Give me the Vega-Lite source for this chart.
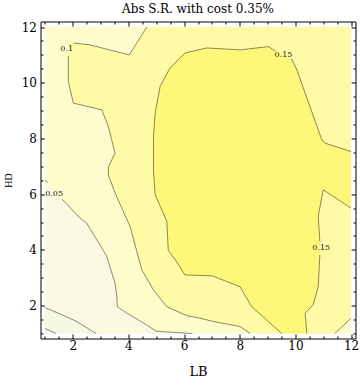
{
  "$schema": "https://vega.github.io/schema/vega-lite/v6.json",
  "autosize": {"type": "none"},
  "padding": {"left": 40.5, "top": 21.5, "right": 4, "bottom": 41.5},
  "width": 315,
  "height": 317,
  "title": {"text": "Abs S.R. with cost 0.35%", "font": "DejaVu Serif", "fontSize": 12, "fontWeight": "normal", "color": "#000", "anchor": "middle", "frame": "group", "baseline": "alphabetic", "offset": -4},
  "config": {
    "view": {"stroke": "#000", "strokeWidth": 1},
    "font": "DejaVu Serif",
    "axis": {"zindex": 1, "grid": false, "domain": false, "labelFlush": false, "labelColor": "#000", "titleColor": "#000", "titleFontWeight": "normal", "labelFont": "DejaVu Serif", "titleFont": "DejaVu Serif", "tickColor": "#000", "tickWidth": 1}
  },
  "datasets": {
    "bg": [{"x0": 1, "x1": 12, "y0": 1, "y1": 12}],
    "fills": [
      {"lvl": 1, "i": 0, "LB": 1, "HD": 1.18}, {"lvl": 1, "i": 1, "LB": 1.4, "HD": 1}, {"lvl": 1, "i": 2, "LB": 12, "HD": 1}, {"lvl": 1, "i": 3, "LB": 12, "HD": 12}, {"lvl": 1, "i": 4, "LB": 1, "HD": 12},
      {"lvl": 2, "i": 0, "LB": 1, "HD": 1.93}, {"lvl": 2, "i": 1, "LB": 1.6, "HD": 1.68}, {"lvl": 2, "i": 2, "LB": 2.12, "HD": 1.44}, {"lvl": 2, "i": 3, "LB": 2.84, "HD": 1}, {"lvl": 2, "i": 4, "LB": 12, "HD": 1}, {"lvl": 2, "i": 5, "LB": 12, "HD": 12}, {"lvl": 2, "i": 6, "LB": 1, "HD": 12},
      {"lvl": 3, "i": 0, "LB": 1, "HD": 6.52}, {"lvl": 3, "i": 1, "LB": 1.35, "HD": 6.12}, {"lvl": 3, "i": 2, "LB": 1.62, "HD": 5.82}, {"lvl": 3, "i": 3, "LB": 2.26, "HD": 5.14}, {"lvl": 3, "i": 4, "LB": 2.5, "HD": 4.96}, {"lvl": 3, "i": 5, "LB": 3.16, "HD": 3.88}, {"lvl": 3, "i": 6, "LB": 3.22, "HD": 3.76}, {"lvl": 3, "i": 7, "LB": 3.52, "HD": 2.8}, {"lvl": 3, "i": 8, "LB": 3.58, "HD": 2.38}, {"lvl": 3, "i": 9, "LB": 3.6, "HD": 1.96}, {"lvl": 3, "i": 10, "LB": 3.94, "HD": 1.73}, {"lvl": 3, "i": 11, "LB": 4.36, "HD": 1.49}, {"lvl": 3, "i": 12, "LB": 5.0, "HD": 1.08}, {"lvl": 3, "i": 13, "LB": 5.8, "HD": 1.03}, {"lvl": 3, "i": 14, "LB": 6.3, "HD": 1}, {"lvl": 3, "i": 15, "LB": 12, "HD": 1}, {"lvl": 3, "i": 16, "LB": 12, "HD": 12}, {"lvl": 3, "i": 17, "LB": 1, "HD": 12},
      {"lvl": 4, "i": 0, "LB": 4.66, "HD": 12}, {"lvl": 4, "i": 1, "LB": 4.03, "HD": 11.0}, {"lvl": 4, "i": 2, "LB": 2.62, "HD": 11.36}, {"lvl": 4, "i": 3, "LB": 2.02, "HD": 11.43}, {"lvl": 4, "i": 4, "LB": 1.84, "HD": 11.43}, {"lvl": 4, "i": 5, "LB": 1.84, "HD": 10.97}, {"lvl": 4, "i": 6, "LB": 1.84, "HD": 10.05}, {"lvl": 4, "i": 7, "LB": 2.02, "HD": 9.27}, {"lvl": 4, "i": 8, "LB": 3.04, "HD": 9.03}, {"lvl": 4, "i": 9, "LB": 3.28, "HD": 8.43}, {"lvl": 4, "i": 10, "LB": 3.52, "HD": 7.47}, {"lvl": 4, "i": 11, "LB": 3.28, "HD": 6.99}, {"lvl": 4, "i": 12, "LB": 3.28, "HD": 6.69}, {"lvl": 4, "i": 13, "LB": 3.52, "HD": 6.04}, {"lvl": 4, "i": 14, "LB": 4.06, "HD": 4.84}, {"lvl": 4, "i": 15, "LB": 4.48, "HD": 3.28}, {"lvl": 4, "i": 16, "LB": 4.9, "HD": 2.56}, {"lvl": 4, "i": 17, "LB": 5.38, "HD": 1.96}, {"lvl": 4, "i": 18, "LB": 6.1, "HD": 1.64}, {"lvl": 4, "i": 19, "LB": 6.57, "HD": 1.55}, {"lvl": 4, "i": 20, "LB": 7.05, "HD": 1.43}, {"lvl": 4, "i": 21, "LB": 8.01, "HD": 1.25}, {"lvl": 4, "i": 22, "LB": 8.37, "HD": 1}, {"lvl": 4, "i": 23, "LB": 11.42, "HD": 1}, {"lvl": 4, "i": 24, "LB": 12, "HD": 1.55}, {"lvl": 4, "i": 25, "LB": 12, "HD": 12},
      {"lvl": 5, "i": 0, "LB": 9.51, "HD": 1}, {"lvl": 5, "i": 1, "LB": 8.43, "HD": 1.96}, {"lvl": 5, "i": 2, "LB": 8.01, "HD": 2.68}, {"lvl": 5, "i": 3, "LB": 7.0, "HD": 3.07}, {"lvl": 5, "i": 4, "LB": 6.03, "HD": 3.1}, {"lvl": 5, "i": 5, "LB": 5.85, "HD": 3.4}, {"lvl": 5, "i": 6, "LB": 5.43, "HD": 4.0}, {"lvl": 5, "i": 7, "LB": 5.38, "HD": 5.02}, {"lvl": 5, "i": 8, "LB": 4.96, "HD": 5.98}, {"lvl": 5, "i": 9, "LB": 4.9, "HD": 6.87}, {"lvl": 5, "i": 10, "LB": 4.9, "HD": 8.07}, {"lvl": 5, "i": 11, "LB": 4.96, "HD": 8.91}, {"lvl": 5, "i": 12, "LB": 5.14, "HD": 9.87}, {"lvl": 5, "i": 13, "LB": 5.49, "HD": 10.53}, {"lvl": 5, "i": 14, "LB": 6.03, "HD": 11.07}, {"lvl": 5, "i": 15, "LB": 6.81, "HD": 11.25}, {"lvl": 5, "i": 16, "LB": 8.01, "HD": 11.18}, {"lvl": 5, "i": 17, "LB": 9.03, "HD": 11.3}, {"lvl": 5, "i": 18, "LB": 9.33, "HD": 11.12}, {"lvl": 5, "i": 19, "LB": 9.57, "HD": 11.0}, {"lvl": 5, "i": 20, "LB": 9.81, "HD": 10.89}, {"lvl": 5, "i": 21, "LB": 10.05, "HD": 10.47}, {"lvl": 5, "i": 22, "LB": 10.95, "HD": 7.95}, {"lvl": 5, "i": 23, "LB": 11.07, "HD": 7.83}, {"lvl": 5, "i": 24, "LB": 12, "HD": 7.53}, {"lvl": 5, "i": 25, "LB": 12, "HD": 5.5}, {"lvl": 5, "i": 26, "LB": 11.0, "HD": 6.16}, {"lvl": 5, "i": 27, "LB": 10.82, "HD": 5.2}, {"lvl": 5, "i": 28, "LB": 10.9, "HD": 4.06}, {"lvl": 5, "i": 29, "LB": 10.82, "HD": 2.68}, {"lvl": 5, "i": 30, "LB": 10.64, "HD": 2.03}, {"lvl": 5, "i": 31, "LB": 10.35, "HD": 1.73}, {"lvl": 5, "i": 32, "LB": 10.41, "HD": 1}
    ],
    "lines": [
      {"seg": "a", "i": 0, "LB": 1, "HD": 1.18}, {"seg": "a", "i": 1, "LB": 1.4, "HD": 1},
      {"seg": "b", "i": 0, "LB": 1, "HD": 1.93}, {"seg": "b", "i": 1, "LB": 1.6, "HD": 1.68}, {"seg": "b", "i": 2, "LB": 2.12, "HD": 1.44}, {"seg": "b", "i": 3, "LB": 2.84, "HD": 1},
      {"seg": "c1", "i": 0, "LB": 1, "HD": 6.52}, {"seg": "c1", "i": 1, "LB": 1.1, "HD": 6.41},
      {"seg": "c2", "i": 0, "LB": 1.62, "HD": 5.82}, {"seg": "c2", "i": 1, "LB": 2.26, "HD": 5.14}, {"seg": "c2", "i": 2, "LB": 2.5, "HD": 4.96}, {"seg": "c2", "i": 3, "LB": 3.16, "HD": 3.88}, {"seg": "c2", "i": 4, "LB": 3.22, "HD": 3.76}, {"seg": "c2", "i": 5, "LB": 3.52, "HD": 2.8}, {"seg": "c2", "i": 6, "LB": 3.58, "HD": 2.38}, {"seg": "c2", "i": 7, "LB": 3.6, "HD": 1.96}, {"seg": "c2", "i": 8, "LB": 3.94, "HD": 1.73}, {"seg": "c2", "i": 9, "LB": 4.36, "HD": 1.49}, {"seg": "c2", "i": 10, "LB": 5.0, "HD": 1.08}, {"seg": "c2", "i": 11, "LB": 5.8, "HD": 1.03}, {"seg": "c2", "i": 12, "LB": 6.3, "HD": 1},
      {"seg": "d1", "i": 0, "LB": 4.66, "HD": 12}, {"seg": "d1", "i": 1, "LB": 4.03, "HD": 11.0}, {"seg": "d1", "i": 2, "LB": 2.62, "HD": 11.36}, {"seg": "d1", "i": 3, "LB": 2.02, "HD": 11.43},
      {"seg": "d2", "i": 0, "LB": 1.84, "HD": 10.97}, {"seg": "d2", "i": 1, "LB": 1.84, "HD": 10.05}, {"seg": "d2", "i": 2, "LB": 2.02, "HD": 9.27}, {"seg": "d2", "i": 3, "LB": 3.04, "HD": 9.03}, {"seg": "d2", "i": 4, "LB": 3.28, "HD": 8.43}, {"seg": "d2", "i": 5, "LB": 3.52, "HD": 7.47}, {"seg": "d2", "i": 6, "LB": 3.28, "HD": 6.99}, {"seg": "d2", "i": 7, "LB": 3.28, "HD": 6.69}, {"seg": "d2", "i": 8, "LB": 3.52, "HD": 6.04}, {"seg": "d2", "i": 9, "LB": 4.06, "HD": 4.84}, {"seg": "d2", "i": 10, "LB": 4.48, "HD": 3.28}, {"seg": "d2", "i": 11, "LB": 4.9, "HD": 2.56}, {"seg": "d2", "i": 12, "LB": 5.38, "HD": 1.96}, {"seg": "d2", "i": 13, "LB": 6.1, "HD": 1.64}, {"seg": "d2", "i": 14, "LB": 6.57, "HD": 1.55}, {"seg": "d2", "i": 15, "LB": 7.05, "HD": 1.43}, {"seg": "d2", "i": 16, "LB": 8.01, "HD": 1.25}, {"seg": "d2", "i": 17, "LB": 8.37, "HD": 1},
      {"seg": "d3", "i": 0, "LB": 11.42, "HD": 1}, {"seg": "d3", "i": 1, "LB": 12, "HD": 1.55},
      {"seg": "e1", "i": 0, "LB": 9.51, "HD": 1}, {"seg": "e1", "i": 1, "LB": 8.43, "HD": 1.96}, {"seg": "e1", "i": 2, "LB": 8.01, "HD": 2.68}, {"seg": "e1", "i": 3, "LB": 7.0, "HD": 3.07}, {"seg": "e1", "i": 4, "LB": 6.03, "HD": 3.1}, {"seg": "e1", "i": 5, "LB": 5.85, "HD": 3.4}, {"seg": "e1", "i": 6, "LB": 5.43, "HD": 4.0}, {"seg": "e1", "i": 7, "LB": 5.38, "HD": 5.02}, {"seg": "e1", "i": 8, "LB": 4.96, "HD": 5.98}, {"seg": "e1", "i": 9, "LB": 4.9, "HD": 6.87}, {"seg": "e1", "i": 10, "LB": 4.9, "HD": 8.07}, {"seg": "e1", "i": 11, "LB": 4.96, "HD": 8.91}, {"seg": "e1", "i": 12, "LB": 5.14, "HD": 9.87}, {"seg": "e1", "i": 13, "LB": 5.49, "HD": 10.53}, {"seg": "e1", "i": 14, "LB": 6.03, "HD": 11.07}, {"seg": "e1", "i": 15, "LB": 6.81, "HD": 11.25}, {"seg": "e1", "i": 16, "LB": 8.01, "HD": 11.18}, {"seg": "e1", "i": 17, "LB": 9.03, "HD": 11.3}, {"seg": "e1", "i": 18, "LB": 9.28, "HD": 11.14},
      {"seg": "e2", "i": 0, "LB": 9.86, "HD": 10.87}, {"seg": "e2", "i": 1, "LB": 10.05, "HD": 10.47}, {"seg": "e2", "i": 2, "LB": 10.95, "HD": 7.95}, {"seg": "e2", "i": 3, "LB": 11.07, "HD": 7.83}, {"seg": "e2", "i": 4, "LB": 12, "HD": 7.53},
      {"seg": "e3", "i": 0, "LB": 12, "HD": 5.5}, {"seg": "e3", "i": 1, "LB": 11.0, "HD": 6.16}, {"seg": "e3", "i": 2, "LB": 10.82, "HD": 5.2}, {"seg": "e3", "i": 3, "LB": 10.88, "HD": 4.3},
      {"seg": "e4", "i": 0, "LB": 10.88, "HD": 3.82}, {"seg": "e4", "i": 1, "LB": 10.82, "HD": 2.68}, {"seg": "e4", "i": 2, "LB": 10.64, "HD": 2.03}, {"seg": "e4", "i": 3, "LB": 10.35, "HD": 1.73}, {"seg": "e4", "i": 4, "LB": 10.41, "HD": 1}
    ],
    "labels": [
      {"t": "0.1", "LB": 1.78, "HD": 11.2},
      {"t": "0.05", "LB": 1.33, "HD": 6.02},
      {"t": "0.15", "LB": 9.57, "HD": 11.0},
      {"t": "0.15", "LB": 10.93, "HD": 4.06}
    ]
  },
  "resolve": {"axis": {"x": "independent", "y": "independent"}},
  "layer": [
    {
      "data": {"name": "bg"},
      "mark": {"type": "rect", "color": "#f3f4ec"},
      "encoding": {
        "x": {"field": "x0", "type": "quantitative", "scale": {"domain": [0.84, 12.16], "nice": false, "zero": false},
              "axis": {"orient": "bottom", "title": "LB", "titleFontSize": 13, "titlePadding": 14, "values": [1,1.5,2,2.5,3,3.5,4,4.5,5,5.5,6,6.5,7,7.5,8,8.5,9,9.5,10,10.5,11,11.5,12], "labelExpr": "datum.value % 2 === 0 ? format(datum.value, 'd') : ''", "labelFontSize": 12, "labelPadding": 6.5, "tickSize": {"condition": {"test": "datum.value % 2 === 0", "value": -4.5}, "value": -2.5}}},
        "x2": {"field": "x1"},
        "y": {"field": "y0", "type": "quantitative", "scale": {"domain": [0.82, 12.2], "nice": false, "zero": false},
              "axis": {"orient": "left", "title": "HD", "titleFont": "Liberation Serif", "titleFontSize": 10, "titlePadding": 8, "values": [1,1.5,2,2.5,3,3.5,4,4.5,5,5.5,6,6.5,7,7.5,8,8.5,9,9.5,10,10.5,11,11.5,12], "labelExpr": "datum.value % 2 === 0 ? format(datum.value, 'd') : ''", "labelFontSize": 12, "labelPadding": 8.5, "tickSize": {"condition": {"test": "datum.value % 2 === 0", "value": -4.5}, "value": -2.5}}},
        "y2": {"field": "y1"}
      }
    },
    {
      "data": {"name": "fills"},
      "transform": [{"filter": "datum.lvl == 1"}],
      "mark": {"type": "line", "filled": true, "fill": "#f7f7e5", "strokeWidth": 0},
      "encoding": {
        "x": {"field": "LB", "type": "quantitative", "axis": {"orient": "top", "title": null, "labels": false, "values": [1,1.5,2,2.5,3,3.5,4,4.5,5,5.5,6,6.5,7,7.5,8,8.5,9,9.5,10,10.5,11,11.5,12], "tickSize": {"condition": {"test": "datum.value % 2 === 0", "value": -4.5}, "value": -2.5}}},
        "y": {"field": "HD", "type": "quantitative", "axis": {"orient": "right", "title": null, "labels": false, "values": [1,1.5,2,2.5,3,3.5,4,4.5,5,5.5,6,6.5,7,7.5,8,8.5,9,9.5,10,10.5,11,11.5,12], "tickSize": {"condition": {"test": "datum.value % 2 === 0", "value": -4.5}, "value": -2.5}}},
        "order": {"field": "i", "type": "quantitative"}
      }
    },
    {
      "data": {"name": "fills"},
      "transform": [{"filter": "datum.lvl == 2"}],
      "mark": {"type": "line", "filled": true, "fill": "#fbfae0", "strokeWidth": 0},
      "encoding": {
        "x": {"field": "LB", "type": "quantitative", "axis": null},
        "y": {"field": "HD", "type": "quantitative", "axis": null},
        "order": {"field": "i", "type": "quantitative"}
      }
    },
    {
      "data": {"name": "fills"},
      "transform": [{"filter": "datum.lvl == 3"}],
      "mark": {"type": "line", "filled": true, "fill": "#fefccc", "strokeWidth": 0},
      "encoding": {
        "x": {"field": "LB", "type": "quantitative", "axis": null},
        "y": {"field": "HD", "type": "quantitative", "axis": null},
        "order": {"field": "i", "type": "quantitative"}
      }
    },
    {
      "data": {"name": "fills"},
      "transform": [{"filter": "datum.lvl == 4"}],
      "mark": {"type": "line", "filled": true, "fill": "#fefaa6", "strokeWidth": 0},
      "encoding": {
        "x": {"field": "LB", "type": "quantitative", "axis": null},
        "y": {"field": "HD", "type": "quantitative", "axis": null},
        "order": {"field": "i", "type": "quantitative"}
      }
    },
    {
      "data": {"name": "fills"},
      "transform": [{"filter": "datum.lvl == 5"}],
      "mark": {"type": "line", "filled": true, "fill": "#fef87a", "strokeWidth": 0},
      "encoding": {
        "x": {"field": "LB", "type": "quantitative", "axis": null},
        "y": {"field": "HD", "type": "quantitative", "axis": null},
        "order": {"field": "i", "type": "quantitative"}
      }
    },
    {
      "data": {"name": "lines"},
      "mark": {"type": "line", "stroke": "#000", "strokeOpacity": 0.45, "strokeWidth": 1},
      "encoding": {
        "x": {"field": "LB", "type": "quantitative", "axis": null},
        "y": {"field": "HD", "type": "quantitative", "axis": null},
        "detail": {"field": "seg", "type": "nominal"},
        "order": {"field": "i", "type": "quantitative"}
      }
    },
    {
      "data": {"name": "labels"},
      "mark": {"type": "text", "font": "DejaVu Serif", "fontSize": 8, "color": "#222"},
      "encoding": {
        "x": {"field": "LB", "type": "quantitative", "axis": null},
        "y": {"field": "HD", "type": "quantitative", "axis": null},
        "text": {"field": "t"}
      }
    }
  ]
}
